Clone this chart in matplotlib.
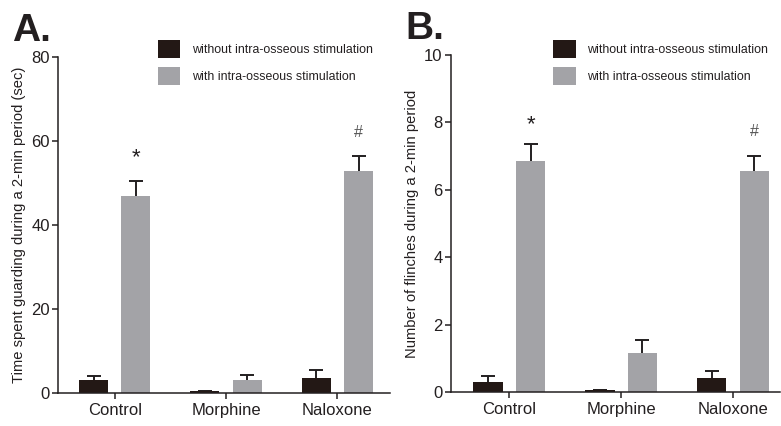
import matplotlib
matplotlib.use("Agg")
from matplotlib import pyplot as plt
from matplotlib.patches import Patch
import numpy as np

plt.rcParams["font.family"] = ["Liberation Sans", "DejaVu Sans"]

groups = ["Control", "Morphine", "Naloxone"]
series_names = ["without intra-osseous stimulation", "with intra-osseous stimulation"]

# panel A: guarding time (sec)
guard_without = [3.1, 0.4, 3.6]
guard_without_err = [0.9, 0.0, 1.9]
guard_with = [46.9, 3.1, 52.9]
guard_with_err = [3.7, 1.2, 3.6]

# panel B: number of flinches
flinch_without = [0.29, 0.06, 0.42]
flinch_without_err = [0.18, 0.0, 0.21]
flinch_with = [6.85, 1.15, 6.57]
flinch_with_err = [0.51, 0.39, 0.43]

# significance marks: (group index, y position, symbol)
marks_a = [(0, 56.0, "*"), (2, 62.0, "#")]
marks_b = [(0, 7.92, "*"), (2, 7.72, "#")]

dark = "#231815"
grey = "#a3a3a7"
ink = "#231f20"


def draw_panel(ax, without, without_err, with_, with_err, marks, ymax, yticks, ylabel, letter, leg_anchor, xlim):
    x = np.arange(len(groups))
    w = 0.26
    off = 0.19
    # error bars sit behind the bars so only the upper half shows
    for xs, vals, errs in ((x - off, without, without_err), (x + off, with_, with_err)):
        ax.errorbar(xs, vals, yerr=errs, fmt="none", ecolor=ink, elinewidth=1.4,
                    capthick=1.4, capsize=5, zorder=1)
    ax.bar(x - off, without, w, color=dark, zorder=2)
    ax.bar(x + off, with_, w, color=grey, zorder=2)

    for gi, yv, sym in marks:
        if sym == "*":
            ax.text(x[gi] + off, yv, sym, ha="center", va="center", fontsize=16, color=ink)
        else:
            ax.text(x[gi] + off, yv, sym, ha="center", va="center", fontsize=11.5, color="#555555")

    ax.set_xlim(*xlim)
    ax.set_ylim(0, ymax)
    ax.set_yticks(yticks)
    ax.set_xticks(x)
    ax.set_xticklabels(groups)
    ax.spines["top"].set_visible(False)
    ax.spines["right"].set_visible(False)
    for s in ("left", "bottom"):
        ax.spines[s].set_linewidth(1.1)
        ax.spines[s].set_color(ink)
    ax.tick_params(axis="both", length=4, width=1.1, color=ink, labelsize=12, labelcolor=ink)
    ax.tick_params(axis="y", pad=2)
    ax.tick_params(axis="x", pad=3)
    ax.set_ylabel(ylabel, fontsize=10.6, color=ink, labelpad=4)

    handles = [Patch(facecolor=dark, edgecolor="none"), Patch(facecolor=grey, edgecolor="none")]
    ax.legend(handles, series_names, loc="upper left", bbox_to_anchor=leg_anchor,
              frameon=False, fontsize=8.9, handlelength=1.85, handleheight=1.85,
              handletextpad=0.9, labelspacing=0.75, borderpad=0, borderaxespad=0,
              labelcolor=ink)

    ax.text(-0.14, 1.13, letter, transform=ax.transAxes, fontsize=28,
            fontweight="bold", color=ink, ha="left", va="top")


fig = plt.figure(figsize=(7.81, 4.26), dpi=100)
ax_a = fig.add_axes([0.0743, 0.0775, 0.4247, 0.7885])
ax_b = fig.add_axes([0.5775, 0.080, 0.4215, 0.791])

draw_panel(ax_a, guard_without, guard_without_err, guard_with, guard_with_err, marks_a,
           80, [0, 20, 40, 60, 80], "Time spent guarding during a 2-min period (sec)",
           "A.", (0.30, 1.05), (-0.51, 2.47))
draw_panel(ax_b, flinch_without, flinch_without_err, flinch_with, flinch_with_err, marks_b,
           10, [0, 2, 4, 6, 8, 10], "Number of flinches during a 2-min period",
           "B.", (0.31, 1.045), (-0.52, 2.42))

fig.savefig("out.png", dpi=100)
